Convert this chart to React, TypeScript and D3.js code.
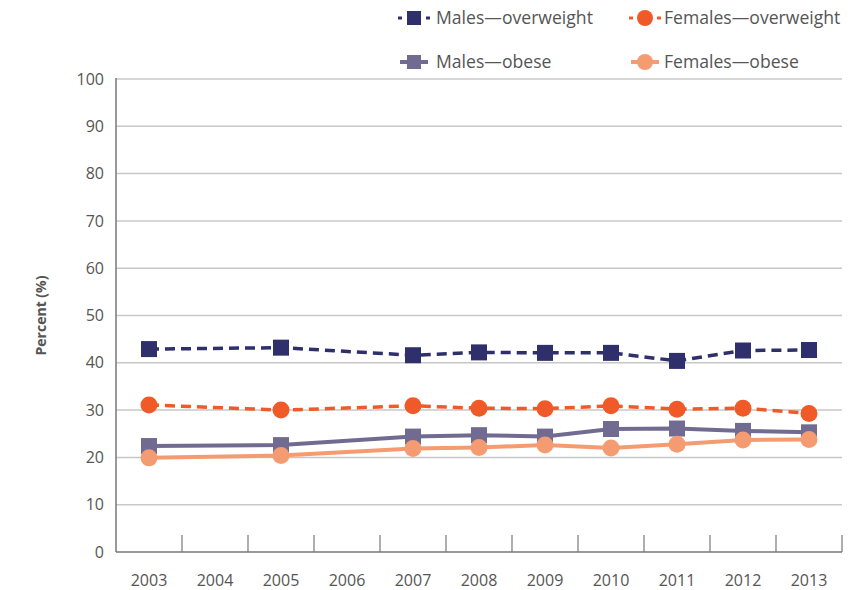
import React from "react";
import * as d3 from "d3";

const years = ["2003", "2004", "2005", "2006", "2007", "2008", "2009", "2010", "2011", "2012", "2013"];
const dataYears = ["2003", "2005", "2007", "2008", "2009", "2010", "2011", "2012", "2013"];
const malesOverweight = [42.9, 43.2, 41.6, 42.2, 42.1, 42.1, 40.4, 42.6, 42.7];
const femalesOverweight = [31.1, 30.0, 30.9, 30.4, 30.3, 30.9, 30.2, 30.4, 29.3];
const malesObese = [22.4, 22.6, 24.4, 24.7, 24.4, 26.0, 26.1, 25.6, 25.3];
const femalesObese = [19.9, 20.4, 21.9, 22.1, 22.6, 22.0, 22.8, 23.7, 23.8];
const yTicks = [0, 10, 20, 30, 40, 50, 60, 70, 80, 90, 100];

const series = [
  { name: "Males\u2014overweight", values: malesOverweight, color: "#2e2f6b", dashed: true, shape: "square" },
  { name: "Females\u2014overweight", values: femalesOverweight, color: "#f05a28", dashed: true, shape: "circle" },
  { name: "Males\u2014obese", values: malesObese, color: "#726b91", dashed: false, shape: "square" },
  { name: "Females\u2014obese", values: femalesObese, color: "#f59b72", dashed: false, shape: "circle" },
];

const W = 848;
const H = 590;
const left = 116;
const right = 842;
const top = 79;
const bottom = 552;
const FONT = "'Open Sans', 'Noto Sans', sans-serif";
const TEXT = "#555";

export default function App() {
  const x = d3.scaleBand<string>().domain(years).range([left, right]).padding(0);
  const y = d3.scaleLinear().domain([0, 100]).range([bottom, top]);
  const cx = (yr: string) => (x(yr) as number) + x.bandwidth() / 2;
  const line = d3
    .line<number>()
    .x((_, i) => cx(dataYears[i]))
    .y((d) => y(d));

  const marker = (shape: string, px: number, py: number, color: string, key: string) =>
    shape === "square" ? (
      <rect key={key} x={px - 8} y={py - 8} width={16} height={16} fill={color} />
    ) : (
      <circle key={key} cx={px} cy={py} r={8.5} fill={color} />
    );

  const legendPos = [
    { mx: 414, tx: 436, ty: 18 },
    { mx: 645, tx: 664, ty: 18 },
    { mx: 414, tx: 436, ty: 62 },
    { mx: 645, tx: 664, ty: 62 },
  ];

  return (
    <svg width={W} height={H} style={{ position: "absolute", left: 0, top: 0 }}>
      <rect width={W} height={H} fill="#fff" />
      {yTicks.slice(1).map((t) => (
        <line key={t} x1={left} x2={right} y1={y(t)} y2={y(t)} stroke="#c8c8c8" strokeWidth={1.5} />
      ))}
      {yTicks.map((t) => (
        <text key={t} x={104} y={y(t)} dy="0.35em" textAnchor="end" fontFamily={FONT} fontSize={16} fill={TEXT}>
          {t}
        </text>
      ))}
      <line x1={left} x2={left} y1={top - 1} y2={bottom} stroke="#777" strokeWidth={1.5} />
      <line x1={left} x2={right} y1={bottom} y2={bottom} stroke="#777" strokeWidth={1.5} />
      {years.map((yr) => (
        <line
          key={yr}
          x1={(x(yr) as number) + x.bandwidth()}
          x2={(x(yr) as number) + x.bandwidth()}
          y1={bottom}
          y2={bottom - 17}
          stroke="#777"
          strokeWidth={1.2}
        />
      ))}
      {years.map((yr) => (
        <text key={yr} x={cx(yr)} y={580} dy="0.35em" textAnchor="middle" fontFamily={FONT} fontSize={16} fill={TEXT}>
          {yr}
        </text>
      ))}
      <text
        transform={`translate(41,${(top + bottom) / 2}) rotate(-90)`}
        textAnchor="middle"
        dy="0.35em"
        fontFamily={FONT}
        fontSize={14}
        fontWeight="bold"
        fill={TEXT}
      >
        Percent (%)
      </text>
      {series.map((s) => (
        <path
          key={s.name}
          d={line(s.values) || ""}
          fill="none"
          stroke={s.color}
          strokeWidth={s.dashed ? 3.5 : 4}
          strokeDasharray={s.dashed ? "10 6" : undefined}
        />
      ))}
      {series.map((s) =>
        s.values.map((v, i) => marker(s.shape, cx(dataYears[i]), y(v), s.color, s.name + i))
      )}
      {series.map((s, i) => {
        const p = legendPos[i];
        return (
          <g key={s.name}>
            {s.dashed ? (
              <>
                <line x1={p.mx - 16} x2={p.mx - 12} y1={p.ty} y2={p.ty} stroke={s.color} strokeWidth={3} />
                <line x1={p.mx + 12} x2={p.mx + 16} y1={p.ty} y2={p.ty} stroke={s.color} strokeWidth={3} />
              </>
            ) : (
              <line x1={p.mx - 14} x2={p.mx + 14} y1={p.ty} y2={p.ty} stroke={s.color} strokeWidth={4} />
            )}
            {s.shape === "square" ? (
              <rect x={p.mx - 7} y={p.ty - 7} width={14} height={14} fill={s.color} />
            ) : (
              <circle cx={p.mx} cy={p.ty} r={8} fill={s.color} />
            )}
            <text x={p.tx} y={p.ty} dy="0.35em" fontFamily={FONT} fontSize={17.6} fill={TEXT}>
              {s.name}
            </text>
          </g>
        );
      })}
    </svg>
  );
}
